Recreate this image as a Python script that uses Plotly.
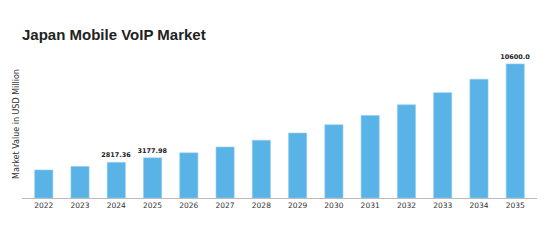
import plotly.graph_objects as go

years = ["2022", "2023", "2024", "2025", "2026", "2027", "2028", "2029",
         "2030", "2031", "2032", "2033", "2034", "2035"]
values = [2215, 2490, 2817.36, 3177.98, 3570, 4030, 4560, 5130,
          5790, 6530, 7370, 8330, 9390, 10600.0]
labels = ["", "", "2817.36", "3177.98", "", "", "", "", "", "", "", "", "", "10600.0"]

fig = go.Figure(go.Bar(
    x=years, y=values, text=labels, textposition="outside",
    constraintext="none",
    textfont=dict(family="DejaVu Sans", size=6.5, color="#222222", weight="bold"),
    marker=dict(color="#5AB3E6", line=dict(color="#8FCDF0", width=0.6)),
    width=0.5, cliponaxis=False,
))

fig.update_layout(
    width=547, height=249,
    margin=dict(l=22, r=10, t=50, b=51),
    paper_bgcolor="white", plot_bgcolor="white",
    showlegend=False,
    title=dict(text="<b>Japan Mobile VoIP Market</b>", x=0, xref="paper",
               xanchor="left", y=0.86, yanchor="middle",
               font=dict(family="Liberation Sans", size=15, color="#222222")),
    xaxis=dict(type="category", range=[-0.6, 13.6], showgrid=False,
               showline=True, linecolor="#BBBBBB", linewidth=1,
               ticks="", tickfont=dict(family="DejaVu Sans", size=7.5, color="#333333")),
    yaxis=dict(range=[0, 11700], showgrid=False, showline=False, zeroline=False,
               showticklabels=False, ticks="",
               title=dict(text="Market Value in USD Million", standoff=0,
                          font=dict(family="DejaVu Sans", size=8, color="#333333"))),
)
fig.write_html("out.html")
